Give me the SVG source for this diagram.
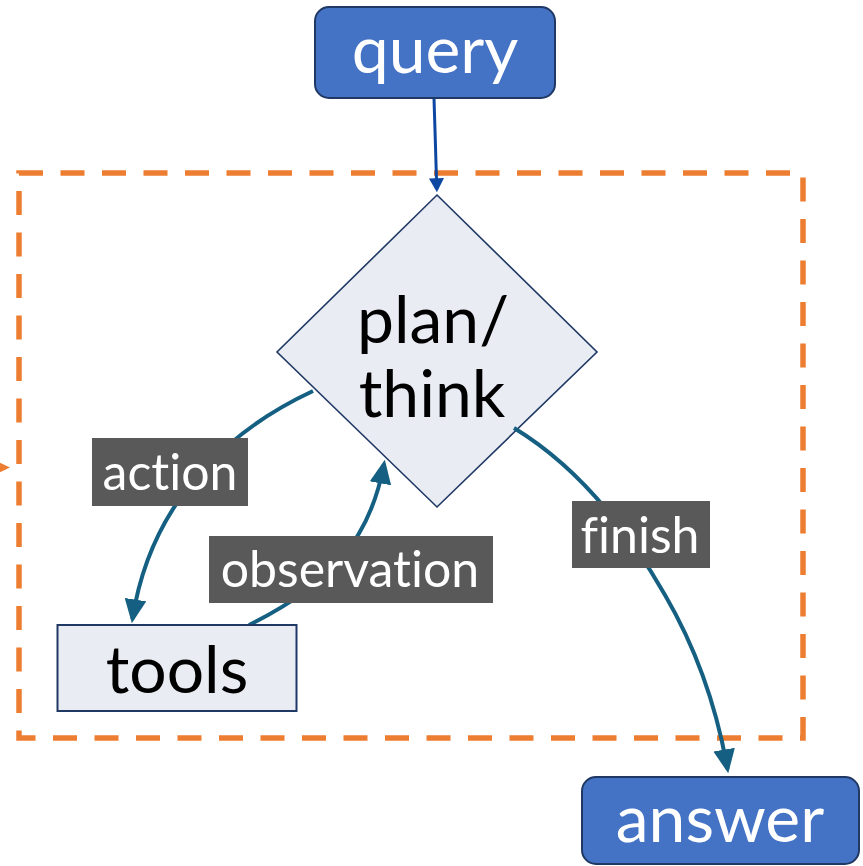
<svg xmlns="http://www.w3.org/2000/svg" width="863" height="866" viewBox="0 0 863 866">
<style>
  text{font-variant-ligatures:none;font-feature-settings:"liga" 0}
  .lbl-bg{fill:#595959}
  .lbl{font-family:Lato,"Liberation Sans",sans-serif;font-size:50px;fill:#ffffff;text-anchor:middle}
  .big{font-family:Lato,"Liberation Sans",sans-serif;font-size:66px;text-anchor:middle}
  .edge{fill:none;stroke:#156082;stroke-width:4}
  .blue{fill:#4472C4;stroke:#1F3864;stroke-width:2}
  .light{fill:#E9ECF3;stroke:#1F3864;stroke-width:2}
</style>
<defs>
  <marker id="ah" markerUnits="userSpaceOnUse" markerWidth="24" markerHeight="22" refX="18" refY="10" orient="auto" viewBox="0 0 22 20">
    <path d="M0,0 L22,10 L0,20 z" fill="#156082"/>
  </marker>
  <marker id="ahq" markerUnits="userSpaceOnUse" markerWidth="14" markerHeight="16" refX="10" refY="7" orient="auto" viewBox="0 0 13 14">
    <path d="M0,0 L13,7 L0,14 z" fill="#0D47A1"/>
  </marker>
</defs>
<rect id="loop-frame" x="19" y="173" width="784" height="565" fill="none" stroke="#ED7D31" stroke-width="5.5" stroke-dasharray="24 17.5"/>
<polygon points="-6,460 10,467.5 -6,475" fill="#ED7D31"/>
<g id="think">
  <polygon points="437,195 597,352 437,507 277,352" fill="#E9ECF3" stroke="#1F3864" stroke-width="1.6"/>
  <text class="big" x="433" y="343" fill="#000">plan/</text>
  <text class="big" x="432" y="417" fill="#000">think</text>
</g>
<g id="connectors">
  <path d="M434,98 L436.8,189" fill="none" stroke="#0D47A1" stroke-width="3" marker-end="url(#ahq)"/>
  <path class="edge" d="M313,391 C240,425 152,492 132.5,619" marker-end="url(#ah)"/>
  <path class="edge" d="M249,625 C330,585 370,540 384,464" marker-end="url(#ah)"/>
  <path class="edge" d="M514,428 C575,465 625,525 665,595 C700,655 718,715 727.5,769" marker-end="url(#ah)"/>
</g>
<g id="query">
  <rect class="blue" x="315" y="7" width="240" height="91" rx="14"/>
  <text class="big" x="435" y="73" fill="#fff">query</text>
</g>
<g id="tools">
  <rect class="light" x="57.5" y="625" width="239" height="86"/>
  <text class="big" x="177" y="693" fill="#000">tools</text>
</g>
<g id="answer">
  <rect class="blue" x="582" y="777" width="277" height="87" rx="14"/>
  <text class="big" x="720" y="842" fill="#fff">answer</text>
</g>
<g id="label-action">
  <rect class="lbl-bg" x="92" y="438" width="156" height="68"/>
  <text class="lbl" x="170" y="490">action</text>
</g>
<g id="label-observation">
  <rect class="lbl-bg" x="209" y="536" width="284" height="67"/>
  <text class="lbl" x="350" y="587">observation</text>
</g>
<g id="label-finish">
  <rect class="lbl-bg" x="572" y="501" width="138" height="67"/>
  <text class="lbl" x="640" y="553">finish</text>
</g>
</svg>
